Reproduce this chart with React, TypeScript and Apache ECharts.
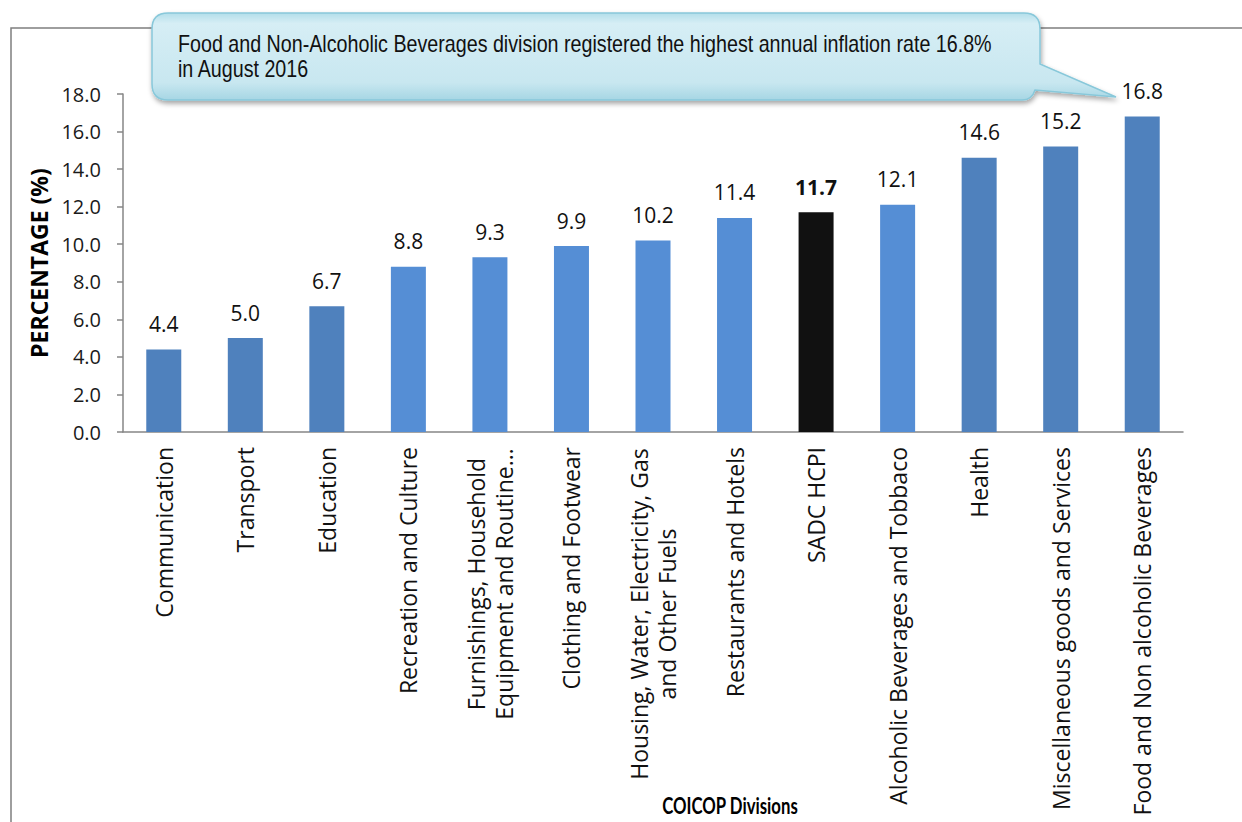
import React, { useEffect, useRef } from "react";
import * as echarts from "echarts";

const categories = [
  "Communication",
  "Transport",
  "Education",
  "Recreation and Culture",
  "Furnishings, Household\nEquipment and Routine…",
  "Clothing and Footwear",
  "Housing, Water, Electricity, Gas\nand Other Fuels",
  "Restaurants and Hotels",
  "SADC HCPI",
  "Alcoholic Beverages and Tobbaco",
  "Health",
  "Miscellaneous goods and Services",
  "Food and Non alcoholic Beverages",
];
const values = [4.4, 5.0, 6.7, 8.8, 9.3, 9.9, 10.2, 11.4, 11.7, 12.1, 14.6, 15.2, 16.8];
const lighterCategories = [
  "Recreation and Culture",
  "Furnishings, Household\nEquipment and Routine…",
  "Clothing and Footwear",
  "Housing, Water, Electricity, Gas\nand Other Fuels",
  "Restaurants and Hotels",
  "Alcoholic Beverages and Tobbaco",
];
const totalCategory = "SADC HCPI";
const yMin = 0;
const yMax = 18;
const yStep = 2;
const calloutLines = [
  "Food and Non-Alcoholic Beverages division registered the highest annual inflation rate 16.8%",
  "in August 2016",
];
const yAxisTitle = "PERCENTAGE (%)";
const xAxisTitle = "COICOP Divisions";

const CALLOUT_D =
  "M 168 13 H 1024 Q 1040 13 1040 29 V 64 L 1116 97 L 1035 90 Q 1032 100 1022 100 H 168 Q 152 100 152 84 V 29 Q 152 13 168 13 Z";
echarts.graphic.registerShape("callout", echarts.graphic.extendPath(CALLOUT_D, {}));

const LABEL_FONT = "'Open Sans', 'Noto Sans', sans-serif";
const CALLOUT_FONT = "'Liberation Sans', Arial, sans-serif";
const TITLE_FONT = "Lato, 'Open Sans', sans-serif";
const CAT_SIZE = 23;

function measure(text: string, font: string): number {
  const ctx = document.createElement("canvas").getContext("2d");
  if (!ctx) return text.length * 10;
  ctx.font = font;
  return ctx.measureText(text).width;
}

function buildOption() {
  const rich: Record<string, any> = {};
  const fmtMap: Record<string, string> = {};
  categories.forEach((c, i) => {
    if (c.includes("\n")) {
      const lines = c.split("\n");
      const w = Math.ceil(Math.max(...lines.map((l) => measure(l, `${CAT_SIZE}px ${LABEL_FONT}`)))) + 2;
      const key = "m" + i;
      rich[key] = {
        width: w,
        align: "center",
        fontSize: CAT_SIZE,
        fontFamily: LABEL_FONT,
        color: "#111111",
        lineHeight: 28,
      };
      fmtMap[c] = lines.map((l) => `{${key}|${l}}`).join("\n");
    }
  });

  const calloutSize = 23;
  const line1W = measure(calloutLines[0], `${calloutSize}px ${CALLOUT_FONT}`);
  const calloutScale = 814 / line1W;

  const titleSize = 23;
  const titleW = measure(xAxisTitle, `bold ${titleSize}px ${TITLE_FONT}`);
  const titleScale = 136 / titleW;

  return {
    animation: false,
    backgroundColor: "#ffffff",
    grid: { left: 123, right: 59, top: 94, bottom: 390, containLabel: false },
    xAxis: {
      type: "category",
      data: categories,
      axisLine: { show: true, lineStyle: { color: "#868686", width: 1.5 } },
      axisTick: { show: false },
      axisLabel: {
        interval: 0,
        rotate: 90,
        margin: 15,
        fontSize: CAT_SIZE,
        fontFamily: LABEL_FONT,
        color: "#111111",
        formatter: (v: string) => fmtMap[v] ?? v,
        rich,
      },
    },
    yAxis: {
      type: "value",
      min: yMin,
      max: yMax,
      interval: yStep,
      name: yAxisTitle,
      nameLocation: "middle",
      nameGap: 69,
      nameTextStyle: { fontSize: 23, fontWeight: "bold", fontFamily: LABEL_FONT, color: "#000" },
      axisLine: { show: true, lineStyle: { color: "#868686", width: 1.5 } },
      axisTick: { show: true, length: 6, lineStyle: { color: "#868686", width: 1.5 } },
      splitLine: { show: false },
      axisLabel: {
        margin: 22,
        fontSize: 20,
        fontFamily: LABEL_FONT,
        color: "#1a1a1a",
        formatter: (v: number) => v.toFixed(1),
      },
    },
    series: [
      {
        type: "bar",
        barWidth: 35,
        data: values.map((v, i) => {
          const cat = categories[i];
          const color =
            cat === totalCategory ? "#111111" : lighterCategories.includes(cat) ? "#558ED5" : "#4F81BD";
          return {
            value: v,
            itemStyle: { color },
            label: cat === totalCategory ? { fontWeight: "bold" } : undefined,
          };
        }),
        label: {
          show: true,
          position: "top",
          distance: 15,
          fontSize: 21,
          fontFamily: LABEL_FONT,
          color: "#111111",
          formatter: (p: any) => Number(p.value).toFixed(1),
        },
      },
    ],
    graphic: [
      {
        type: "rect",
        z: 0,
        silent: true,
        shape: { x: 11, y: 28, width: 1300, height: 900 },
        style: { fill: "none", stroke: "#7f7f7f", lineWidth: 1.5 },
      },
      {
        type: "callout",
        z: 10,
        x: 0,
        y: 0,
        silent: true,
        style: {
          fill: {
            type: "linear",
            x: 0,
            y: 0,
            x2: 0,
            y2: 1,
            colorStops: [
              { offset: 0, color: "#b3deea" },
              { offset: 0.12, color: "#d6eef5" },
              { offset: 0.8, color: "#c8e7f0" },
              { offset: 1, color: "#a6d6e4" },
            ],
          },
          stroke: "#88c8da",
          lineWidth: 1.5,
          shadowBlur: 5,
          shadowOffsetY: 3,
          shadowOffsetX: 1,
          shadowColor: "rgba(0,0,0,0.35)",
        },
      },
      {
        type: "text",
        z: 11,
        x: 178,
        y: 44,
        scaleX: calloutScale,
        silent: true,
        style: {
          text: calloutLines[0],
          fontSize: calloutSize,
          fontFamily: CALLOUT_FONT,
          fill: "#111111",
          align: "left",
          verticalAlign: "middle",
        },
      },
      {
        type: "text",
        z: 11,
        x: 178,
        y: 69,
        scaleX: calloutScale,
        silent: true,
        style: {
          text: calloutLines[1],
          fontSize: calloutSize,
          fontFamily: CALLOUT_FONT,
          fill: "#111111",
          align: "left",
          verticalAlign: "middle",
        },
      },
      {
        type: "text",
        z: 11,
        x: 730,
        y: 805,
        scaleX: titleScale,
        silent: true,
        style: {
          text: xAxisTitle,
          fontSize: titleSize,
          fontWeight: "bold",
          fontFamily: TITLE_FONT,
          fill: "#000000",
          align: "center",
          verticalAlign: "middle",
        },
      },
    ],
  };
}

export default function App() {
  const ref = useRef<HTMLDivElement>(null);
  useEffect(() => {
    if (!ref.current) return;
    const chart = echarts.init(ref.current, undefined, { renderer: "svg" });
    chart.setOption(buildOption() as any);
    return () => chart.dispose();
  }, []);
  return (
    <div
      ref={ref}
      style={{ position: "fixed", left: 0, top: 0, width: 1242, height: 822, background: "#fff" }}
    />
  );
}
